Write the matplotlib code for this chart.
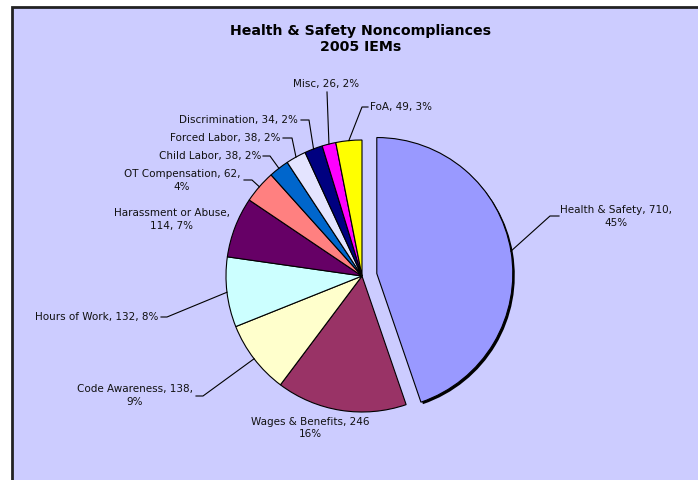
import numpy as np
import matplotlib.pyplot as plt
from matplotlib.patches import Rectangle, Wedge

# data
categories = ["Health & Safety", "Wages & Benefits", "Code Awareness", "Hours of Work",
              "Harassment or Abuse", "OT Compensation", "Child Labor", "Forced Labor",
              "Discrimination", "Misc", "FoA"]
counts = [710, 246, 138, 132, 114, 62, 38, 38, 34, 26, 49]
percents = [45, 16, 9, 8, 7, 4, 2, 2, 2, 2, 3]
colors = ["#9999FF", "#993366", "#FFFFCC", "#CCFFFF", "#660066", "#FF8080",
          "#0066CC", "#E4E4FF", "#000080", "#FF00FF", "#FFFF00"]

W, H = 698, 480


def px(x, y):
    # pixel coords (top-left origin) -> data coords
    return x, H - y


fig = plt.figure(figsize=(W / 100, H / 100), dpi=100)
fig.patch.set_facecolor("white")
ax = fig.add_axes([0, 0, 1, 1])

# chart area
ax.add_patch(Rectangle((12, -10), 720, H - 7 + 10, facecolor="#CCCCFF",
                       edgecolor="#222222", linewidth=2, zorder=0))

cx, cy = px(362, 276)
R = 136
explode = [15] + [0] * (len(counts) - 1)
wedges, _ = ax.pie(counts, colors=colors, startangle=90, counterclock=False,
                   center=(cx, cy), radius=R, explode=explode,
                   wedgeprops=dict(edgecolor="black", linewidth=0.8))

# shadow under the exploded slice
w0 = wedges[0]
ax.add_patch(Wedge((w0.center[0] + 2, w0.center[1] - 2), w0.r, w0.theta1, w0.theta2,
                   facecolor="black", edgecolor="none", zorder=0.9))

# label text
texts = []
for name, n, p in zip(categories, counts, percents):
    texts.append(f"{name}, {n}, {p}%")
texts[0] = f"{categories[0]}, {counts[0]},\n{percents[0]}%"
texts[1] = f"{categories[1]}, {counts[1]}\n{percents[1]}%"
texts[2] = f"{categories[2]}, {counts[2]},\n{percents[2]}%"
texts[4] = f"{categories[4]},\n{counts[4]}, {percents[4]}%"
texts[5] = f"{categories[5]}, {counts[5]},\n{percents[5]}%"

# (anchor x, y, ha, elbow points) in pixels
layout = [
    (616, 216.5, "center", [(550, 216), (559, 216)]),
    (310, 428, "center", None),
    (135, 395.5, "center", [(203, 396), (196, 396)]),
    (158, 317, "right", [(167, 317), (161, 317)]),
    (172, 219.5, "center", None),
    (182, 180.5, "center", [(252, 180), (244, 180)]),
    (261, 156, "right", [(270, 156), (263, 156)]),
    (280, 138, "right", [(292, 138), (283, 138)]),
    (298, 120, "right", [(309, 120), (301, 120)]),
    (326, 84, "center", [(327, 92)]),
    (370, 107, "left", [(362, 107), (368, 107)]),
]

for w, t, (lx, ly, ha, elbow) in zip(wedges, texts, layout):
    ax.text(*px(lx, ly), t, ha=ha, va="center", fontsize=7.5, color="#111111",
            linespacing=1.3, multialignment="center", zorder=5)
    if elbow:
        # leader starts at the middle of the slice's arc
        ang = np.deg2rad((w.theta1 + w.theta2) / 2)
        ex = w.center[0] + w.r * np.cos(ang)
        ey = w.center[1] + w.r * np.sin(ang)
        xs = [ex] + [px(*e)[0] for e in elbow]
        ys = [ey] + [px(*e)[1] for e in elbow]
        ax.plot(xs, ys, color="black", linewidth=0.8, zorder=4)

ax.text(*px(361, 39), "Health & Safety Noncompliances\n2005 IEMs", ha="center",
        va="center", fontsize=10.2, fontweight="bold", linespacing=1.25, zorder=5)

ax.set_xlim(0, W)
ax.set_ylim(0, H)
ax.set_aspect("auto")
ax.axis("off")

fig.savefig("out.png", dpi=100)
